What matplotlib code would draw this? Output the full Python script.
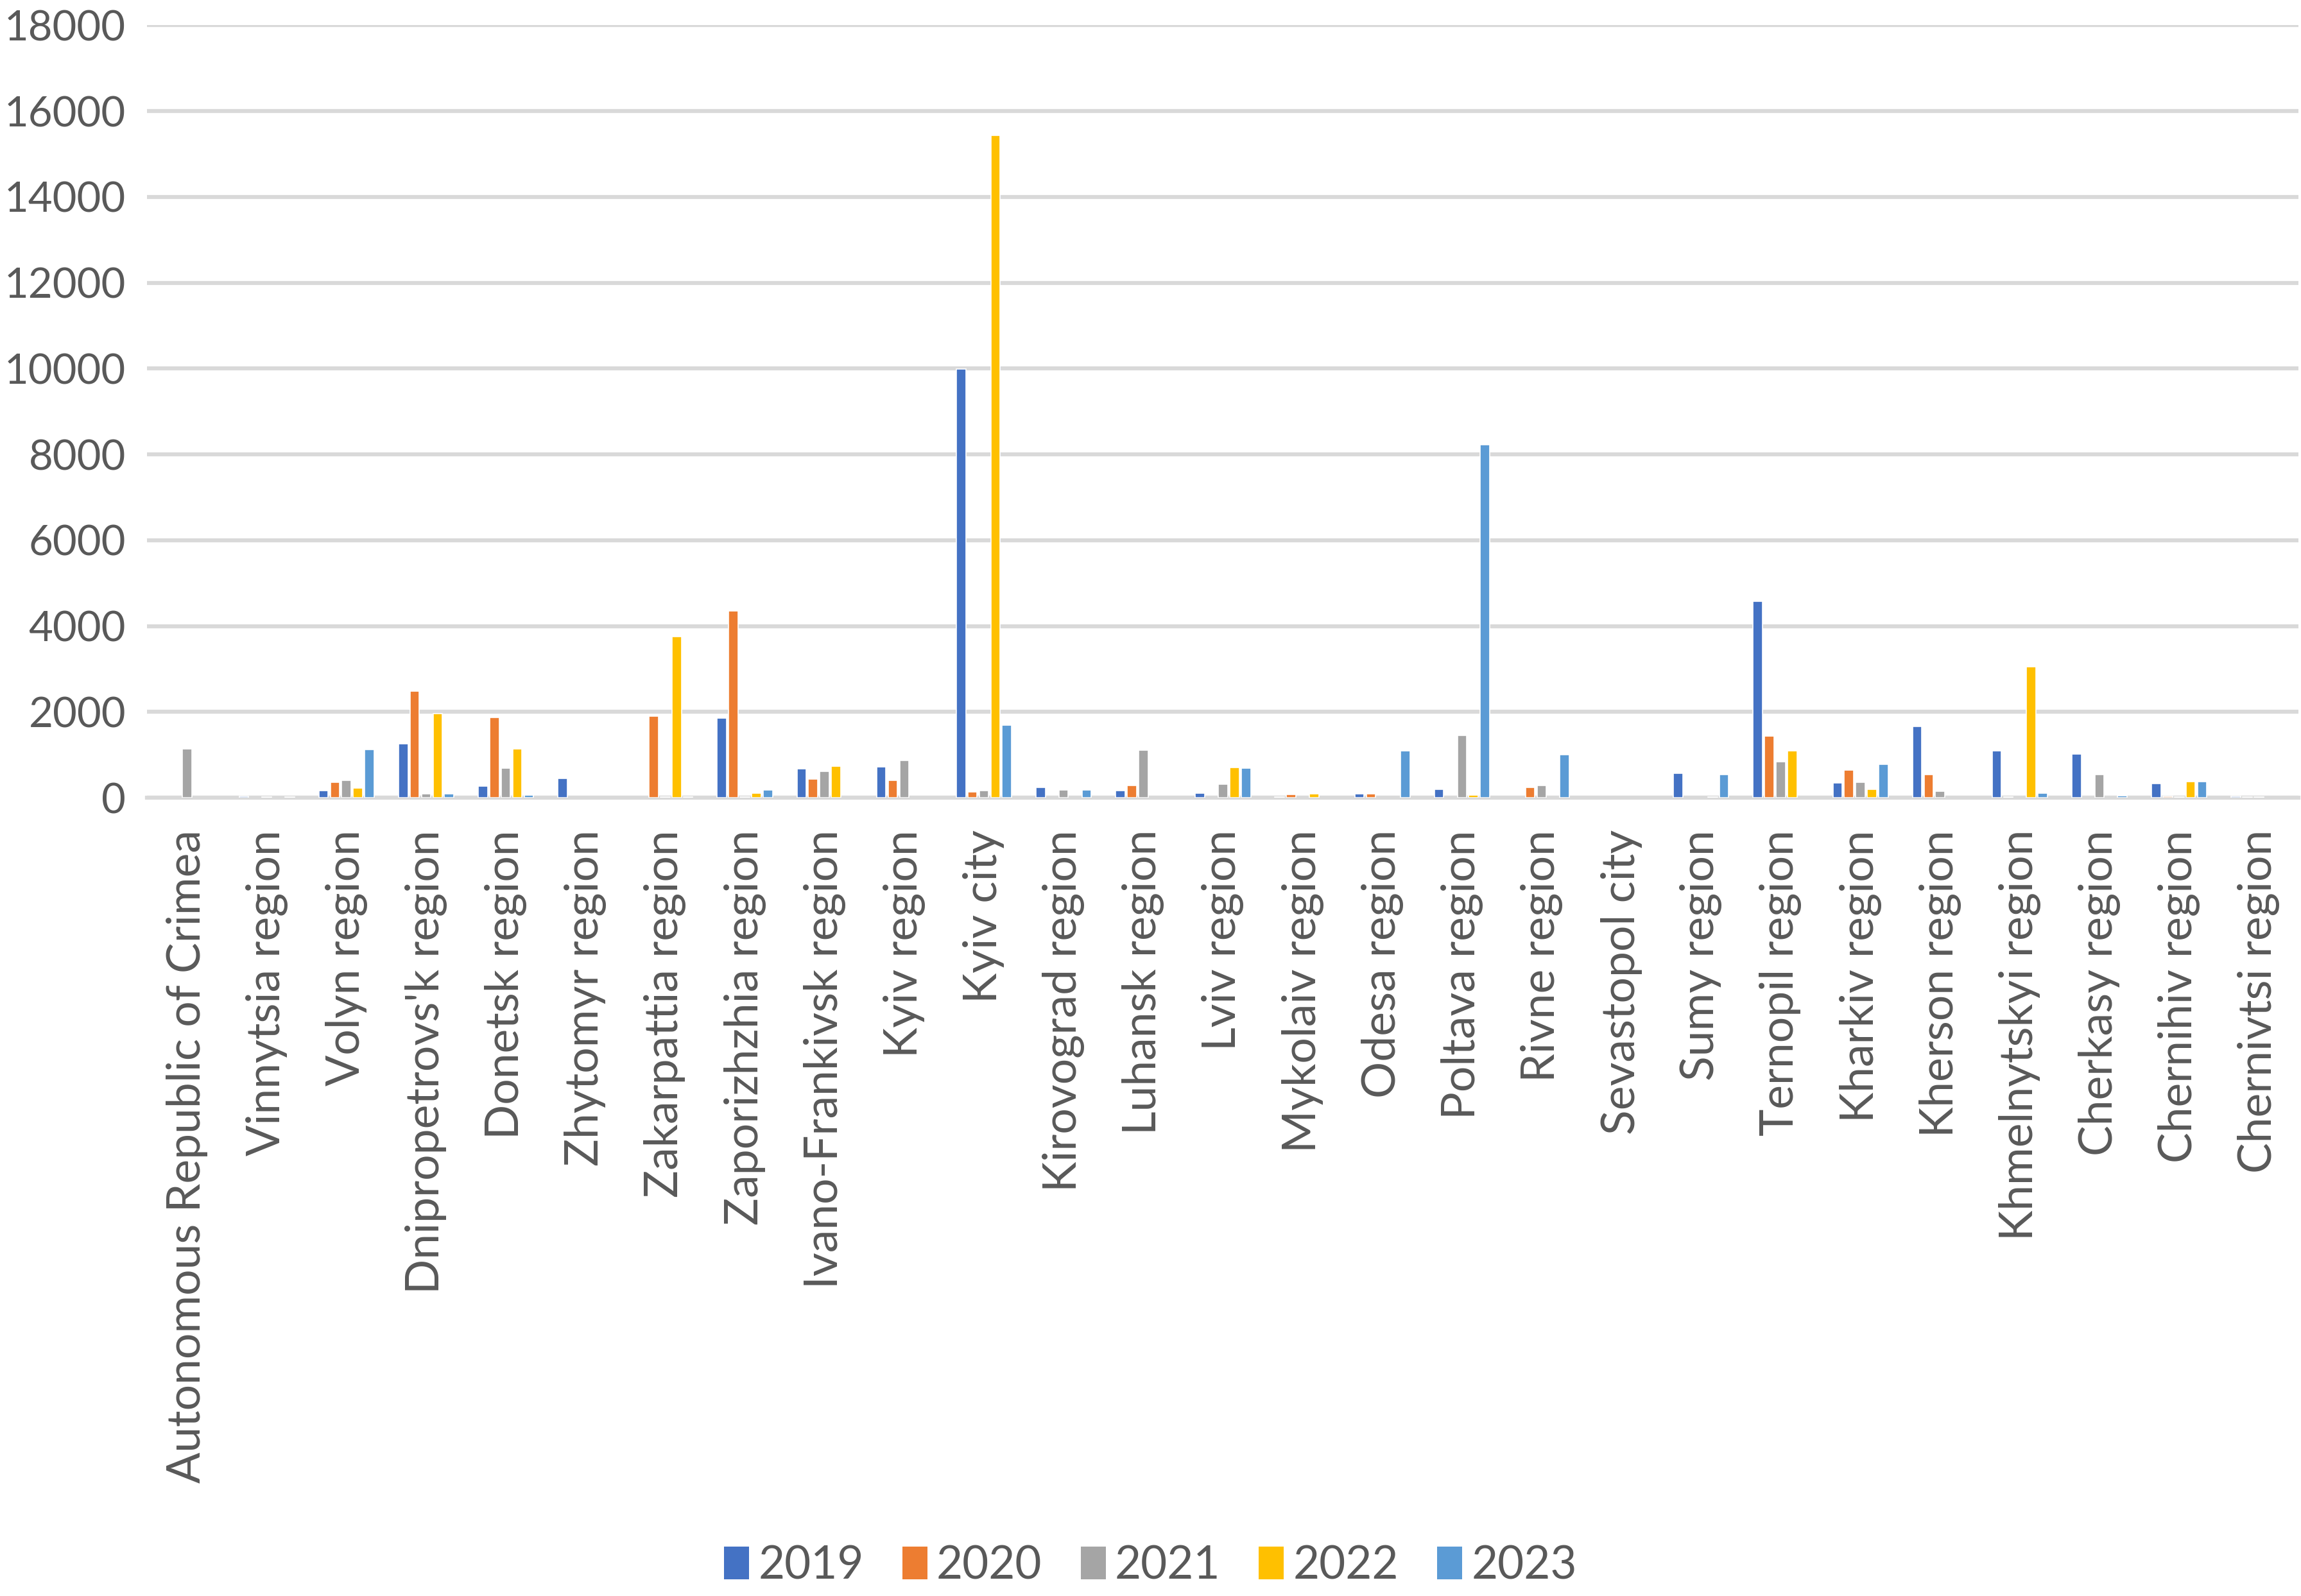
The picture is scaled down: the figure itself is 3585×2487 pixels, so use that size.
import numpy as np
import matplotlib.pyplot as plt
from matplotlib.patches import Patch

plt.rcParams['font.family'] = ['Lato', 'DejaVu Sans']

# Categories and yearly values
regions = ["Autonomous Republic of Crimea", "Vinnytsia region", "Volyn region",
           "Dnipropetrovs'k region", "Donetsk region", "Zhytomyr region",
           "Zakarpattia region", "Zaporizhzhia region", "Ivano-Frankivsk region",
           "Kyiv region", "Kyiv city", "Kirovograd region", "Luhansk region",
           "Lviv region", "Mykolaiv region", "Odesa region", "Poltava region",
           "Rivne region", "Sevastopol city", "Sumy region", "Ternopil region",
           "Kharkiv region", "Kherson region", "Khmelnytskyi region",
           "Cherkasy region", "Chernihiv region", "Chernivtsi region"]

years = ['2019', '2020', '2021', '2022', '2023']

v2019 = [0, 25, 160, 1257, 264, 449, 0, 1856, 674, 714, 9990, 235, 160, 105, 15,
         90, 190, 0, 0, 569, 4576, 344, 1662, 1088, 1018, 334, 25]
v2020 = [0, 0, 364, 2485, 1866, 0, 1901, 4356, 434, 404, 140, 0, 284, 0, 70,
         90, 0, 235, 0, 0, 1432, 644, 539, 15, 0, 25, 15]
v2021 = [1133, 15, 404, 85, 684, 0, 20, 20, 614, 863, 160, 180, 1103, 314, 0,
         0, 1452, 280, 0, 0, 838, 359, 150, 0, 534, 15, 15]
v2022 = [0, 0, 220, 1956, 1133, 0, 3747, 110, 734, 0, 15430, 0, 0, 704, 85,
         0, 60, 0, 0, 15, 1098, 200, 0, 3054, 0, 374, 0]
v2023 = [0, 15, 1123, 90, 60, 0, 20, 175, 0, 0, 1692, 175, 0, 684, 0,
         1088, 8220, 1003, 0, 534, 0, 773, 0, 105, 45, 374, 0]

series = [v2019, v2020, v2021, v2022, v2023]
colors = ['#4472C4', '#ED7D31', '#A5A5A5', '#FFC000', '#5B9BD5']

fig = plt.figure(figsize=(35.85, 24.87), dpi=100)
ax = fig.add_axes([0.064, 0.5002, 0.935, 0.484])

x = np.arange(len(regions))
slot = 0.144
width = 0.118
for i, (vals, col) in enumerate(zip(series, colors)):
    vals = np.array(vals)
    keep = vals > 0  # empty cells draw nothing
    ax.bar(x[keep] + (i - 2) * slot, vals[keep], width, color=col,
           edgecolor='white', linewidth=1.2, zorder=3)

text_col = '#595959'
ax.set_xlim(-0.5, len(regions) - 0.5)
ax.set_ylim(0, 18000)
ax.set_yticks(np.arange(0, 18001, 2000))
ax.yaxis.grid(True, color='#D9D9D9', linewidth=4.5, zorder=0)
ax.set_axisbelow(True)
for s in ['top', 'right', 'left']:
    ax.spines[s].set_visible(False)
ax.spines['bottom'].set_color('#D9D9D9')
ax.spines['bottom'].set_linewidth(4.5)

ax.set_xticks(x)
ax.set_xticklabels(regions, rotation=90, fontsize=51.5, color=text_col)
ax.tick_params(axis='x', length=0, pad=36)
ax.tick_params(axis='y', length=0, pad=24, labelsize=47, labelcolor=text_col)

handles = [Patch(facecolor=c, edgecolor='none') for c in colors]
fig.legend(handles, years, loc='center', bbox_to_anchor=(0.5, 0.019), ncol=5,
           frameon=False, fontsize=51, labelcolor=text_col,
           handlelength=0.55, handleheight=0.75, handletextpad=0.2,
           columnspacing=0.85)

fig.savefig('out.png', dpi=100)
